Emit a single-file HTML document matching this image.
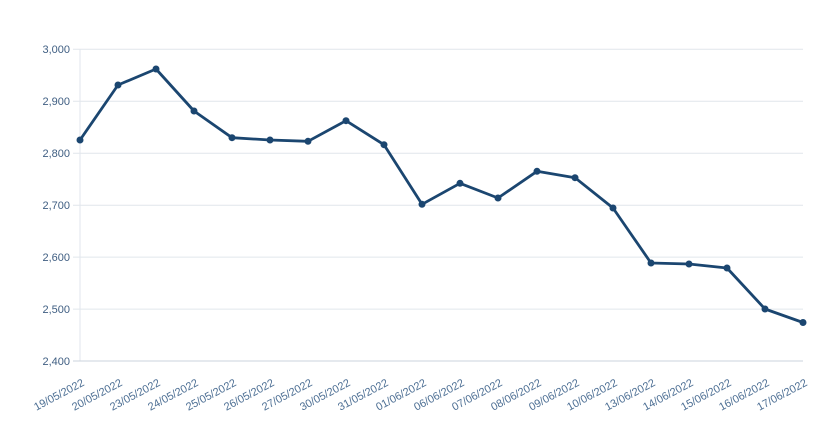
<!DOCTYPE html>
<html><head><meta charset="utf-8"><style>
html,body{margin:0;padding:0;background:#fff;}
svg{display:block;}
</style></head><body>
<svg width="816" height="434" viewBox="0 0 816 434" xmlns="http://www.w3.org/2000/svg">
<rect width="816" height="434" fill="#fff"/>
<g stroke="#e1e6ec" stroke-width="1">
<line x1="73" y1="49.3" x2="803" y2="49.3"/>
<line x1="73" y1="101.3" x2="803" y2="101.3"/>
<line x1="73" y1="153.2" x2="803" y2="153.2"/>
<line x1="73" y1="205.2" x2="803" y2="205.2"/>
<line x1="73" y1="257.1" x2="803" y2="257.1"/>
<line x1="73" y1="309.1" x2="803" y2="309.1"/>
<line x1="80" y1="49" x2="80" y2="361"/>
</g>
<line x1="73" y1="361" x2="803" y2="361" stroke="#cbd3dc" stroke-width="1"/>
<g font-family="Liberation Sans, sans-serif" font-size="11" fill="#3f5e82" text-anchor="end">
<text x="70" y="53">3,000</text>
<text x="70" y="105">2,900</text>
<text x="70" y="157">2,800</text>
<text x="70" y="209">2,700</text>
<text x="70" y="261">2,600</text>
<text x="70" y="313">2,500</text>
<text x="70" y="365">2,400</text>
</g>
<g font-family="Liberation Sans, sans-serif" font-size="11" fill="#4d6f94" text-anchor="end">
<text transform="translate(85,385) rotate(-28)">19/05/2022</text>
<text transform="translate(123,385) rotate(-28)">20/05/2022</text>
<text transform="translate(161,385) rotate(-28)">23/05/2022</text>
<text transform="translate(199,385) rotate(-28)">24/05/2022</text>
<text transform="translate(237,385) rotate(-28)">25/05/2022</text>
<text transform="translate(275,385) rotate(-28)">26/05/2022</text>
<text transform="translate(313,385) rotate(-28)">27/05/2022</text>
<text transform="translate(351,385) rotate(-28)">30/05/2022</text>
<text transform="translate(389,385) rotate(-28)">31/05/2022</text>
<text transform="translate(427,385) rotate(-28)">01/06/2022</text>
<text transform="translate(465,385) rotate(-28)">06/06/2022</text>
<text transform="translate(503,385) rotate(-28)">07/06/2022</text>
<text transform="translate(542,385) rotate(-28)">08/06/2022</text>
<text transform="translate(580,385) rotate(-28)">09/06/2022</text>
<text transform="translate(618,385) rotate(-28)">10/06/2022</text>
<text transform="translate(656,385) rotate(-28)">13/06/2022</text>
<text transform="translate(694,385) rotate(-28)">14/06/2022</text>
<text transform="translate(732,385) rotate(-28)">15/06/2022</text>
<text transform="translate(770,385) rotate(-28)">16/06/2022</text>
<text transform="translate(808,385) rotate(-28)">17/06/2022</text>
</g>
<polyline fill="none" stroke="#1b4670" stroke-width="2.8" stroke-linejoin="round" points="80,140 118,85 156,69 194,111 232,137.7 270,140 308,141.3 346,120.7 384,144.7 422,204.3 460,183.3 498,198 537,171.3 575,177.7 613,208 651,263 689,264 727,268 765,309 803,322.5"/>
<g fill="#1b4670">
<circle cx="80" cy="140" r="3.5"/>
<circle cx="118" cy="85" r="3.5"/>
<circle cx="156" cy="69" r="3.5"/>
<circle cx="194" cy="111" r="3.5"/>
<circle cx="232" cy="137.7" r="3.5"/>
<circle cx="270" cy="140" r="3.5"/>
<circle cx="308" cy="141.3" r="3.5"/>
<circle cx="346" cy="120.7" r="3.5"/>
<circle cx="384" cy="144.7" r="3.5"/>
<circle cx="422" cy="204.3" r="3.5"/>
<circle cx="460" cy="183.3" r="3.5"/>
<circle cx="498" cy="198" r="3.5"/>
<circle cx="537" cy="171.3" r="3.5"/>
<circle cx="575" cy="177.7" r="3.5"/>
<circle cx="613" cy="208" r="3.5"/>
<circle cx="651" cy="263" r="3.5"/>
<circle cx="689" cy="264" r="3.5"/>
<circle cx="727" cy="268" r="3.5"/>
<circle cx="765" cy="309" r="3.5"/>
<circle cx="803" cy="322.5" r="3.5"/>
</g>
</svg>
</body></html>
